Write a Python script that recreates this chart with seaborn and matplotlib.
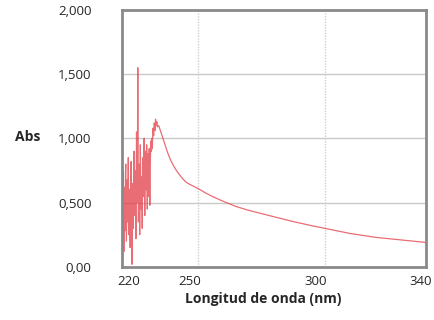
import matplotlib
matplotlib.use("Agg")
import matplotlib.pyplot as plt
import matplotlib.transforms as mtransforms
import seaborn as sns
import pandas as pd

wavelength = [
    220.000, 220.125, 220.250, 220.375, 220.500, 220.625, 220.750, 220.875,
    221.000, 221.125, 221.250, 221.375, 221.500, 221.625, 221.750, 221.875,
    222.000, 222.125, 222.250, 222.375, 222.500, 222.625, 222.750, 222.875,
    223.000, 223.125, 223.250, 223.375, 223.500, 223.625, 223.750, 223.875,
    224.000, 224.125, 224.250, 224.375, 224.500, 224.625, 224.750, 224.875,
    225.000, 225.125, 225.250, 225.375, 225.500, 225.625, 225.750, 225.875,
    226.000, 226.125, 226.250, 226.375, 226.500, 226.625, 226.750, 226.875,
    227.000, 227.125, 227.250, 227.375, 227.500, 227.625, 227.750, 227.875,
    228.000, 228.125, 228.250, 228.375, 228.500, 228.625, 228.750, 228.875,
    229.000, 229.125, 229.250, 229.375, 229.500, 229.625, 229.750, 229.875,
    230.000, 230.125, 230.250, 230.375, 230.500, 230.625, 230.750, 230.875,
    231.000, 231.125, 231.250, 231.375, 231.500, 231.625, 231.750, 231.875,
    232.00, 232.25, 232.50, 232.75, 233.00, 233.25, 233.50, 233.75, 234.00, 234.50,
    235.0, 236.0, 237.0, 238.0, 239.0, 240.0, 241.0, 242.0, 243.0, 244.0,
    245.0, 246.0, 248.0, 250.0, 253.0, 256.0, 260.0, 265.0, 270.0, 275.0,
    280.0, 287.0, 295.0, 300.0, 310.0, 320.0, 330.0, 340.0,
]
absorbance = [
    0.55, 0.70, 0.30, 0.62, 0.75, 0.45, 0.12, 0.50,
    0.62, 0.28, 0.40, 0.72, 0.80, 0.48, 0.20, 0.35,
    0.55, 0.68, 0.35, 0.60, 0.85, 0.52, 0.25, 0.42,
    0.60, 0.38, 0.15, 0.50, 0.70, 0.82, 0.45, 0.30,
    0.02, 0.40, 0.65, 0.55, 0.30, 0.62, 0.90, 0.58,
    0.40, 0.55, 0.75, 0.45, 0.22, 0.60, 1.05, 0.72,
    0.50, 0.90, 1.55, 0.70, 0.35, 0.58, 0.80, 0.48,
    0.25, 0.62, 0.95, 0.68, 0.45, 0.55, 0.70, 0.52,
    0.30, 0.60, 0.85, 0.70, 0.55, 0.78, 1.00, 0.65,
    0.40, 0.72, 0.90, 0.75, 0.60, 0.82, 0.95, 0.62,
    0.45, 0.70, 0.88, 0.66, 0.55, 0.80, 0.92, 0.70,
    0.48, 0.75, 0.85, 0.98, 0.95, 0.90, 1.00, 0.92,
    0.95, 1.08, 1.02, 1.12, 1.06, 1.15, 1.10, 1.13, 1.09, 1.10,
    1.07, 1.01, 0.95, 0.89, 0.84, 0.80, 0.765, 0.735, 0.71, 0.685,
    0.665, 0.65, 0.63, 0.61, 0.575, 0.545, 0.51, 0.47, 0.44, 0.415,
    0.39, 0.355, 0.32, 0.30, 0.26, 0.23, 0.21, 0.19,
]
x_ticks = [220, 250, 300, 340]
x_tick_labels = ["220", "250", "300", "340"]
y_ticks = [0.0, 0.5, 1.0, 1.5, 2.0]
y_tick_labels = ["0,00", "0,500", "1,000", "1,500", "2,000"]

df = pd.DataFrame({"wavelength": wavelength, "absorbance": absorbance})

sns.set_style("white")
plt.rcParams["font.family"] = ["Open Sans", "DejaVu Sans"]

fig = plt.figure(figsize=(4.34, 3.2), dpi=100)
ax = fig.add_axes([0.281, 0.166, 0.701, 0.803])

sns.lineplot(data=df, x="wavelength", y="absorbance", ax=ax,
             color="#e23c46", linewidth=0.9, alpha=0.75, estimator=None)

ax.set_xlim(220, 340)
ax.set_ylim(0, 2.0)

# grid: horizontal solid, vertical dotted
for yv in [0.5, 1.0, 1.5]:
    ax.axhline(yv, color="#c9c9c9", linewidth=1.0, zorder=0)
for xv in [250, 300]:
    ax.axvline(xv, color="#cfcfcf", linewidth=1.0, linestyle=(0, (1, 1)), zorder=0)

ax.set_xticks(x_ticks)
ax.set_xticklabels(x_tick_labels, fontsize=9.5)
ax.set_yticks(y_ticks)
ax.set_yticklabels(y_tick_labels, fontsize=9.5)
ax.tick_params(axis="x", length=0, pad=6)
ax.tick_params(axis="y", length=0, pad=22)

offsets = [7, -8, -9, -6]
for lab, dx in zip(ax.get_xticklabels(), offsets):
    lab.set_transform(lab.get_transform() + mtransforms.ScaledTranslation(dx / 100, 0, fig.dpi_scale_trans))

ax.set_xlabel("")
ax.set_ylabel("")
fig.text(0.606, 0.066, "Longitud de onda (nm)", ha="center", va="center",
         fontsize=10, fontweight="bold")
fig.text(0.063, 0.572, "Abs", ha="center", va="center", fontsize=10, fontweight="bold")

for s in ax.spines.values():
    s.set_color("#8a8a8a")
    s.set_linewidth(2.0)

fig.savefig("out.png", dpi=100)
